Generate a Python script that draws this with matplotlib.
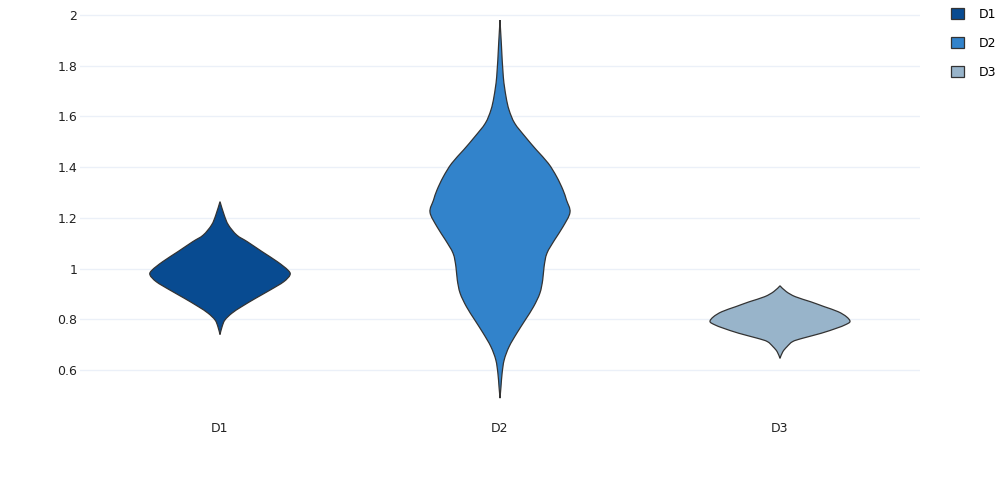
import numpy as np
import matplotlib.pyplot as plt
from matplotlib.path import Path
from matplotlib.patches import PathPatch, Patch

# violin outlines: value and relative density (max = 1)
names = ['D1', 'D2', 'D3']
colors = ['#084b91', '#3283cb', '#98b4ca']

d1_y = [0.740, 0.771, 0.797, 0.824, 0.850, 0.883, 0.916, 0.948, 0.975, 0.994,
        1.027, 1.067, 1.106, 1.132, 1.172, 1.211, 1.264]
d1_dens = [0, 0.03, 0.07, 0.17, 0.31, 0.51, 0.72, 0.91, 1.0, 0.97,
           0.82, 0.60, 0.39, 0.24, 0.12, 0.06, 0]

d2_y = [0.489, 0.534, 0.587, 0.640, 0.692, 0.745, 0.797, 0.850, 0.903, 0.955,
        1.008, 1.060, 1.113, 1.165, 1.222, 1.270, 1.310, 1.362, 1.415, 1.468,
        1.520, 1.573, 1.625, 1.678, 1.757, 1.888, 1.980]
d2_dens = [0, 0.014, 0.03, 0.06, 0.13, 0.24, 0.36, 0.48, 0.57, 0.61,
           0.63, 0.67, 0.78, 0.90, 1.0, 0.95, 0.90, 0.81, 0.69, 0.52,
           0.36, 0.21, 0.13, 0.086, 0.047, 0.019, 0]

d3_y = [0.646, 0.672, 0.692, 0.712, 0.725, 0.745, 0.765, 0.778, 0.791, 0.810,
        0.830, 0.850, 0.869, 0.889, 0.909, 0.932]
d3_dens = [0, 0.04, 0.10, 0.18, 0.32, 0.59, 0.81, 0.93, 1.0, 0.95,
           0.83, 0.63, 0.44, 0.22, 0.09, 0]

profiles = [(d1_y, d1_dens), (d2_y, d2_dens), (d3_y, d3_dens)]
y_ticks = [0.6, 0.8, 1.0, 1.2, 1.4, 1.6, 1.8, 2.0]


def bezier_half(pts):
    # catmull-rom through the points, returned as cubic bezier vertices
    n = len(pts)
    verts = [pts[0]]
    for i in range(n - 1):
        p0 = pts[max(i - 1, 0)]
        p1 = pts[i]
        p2 = pts[i + 1]
        p3 = pts[min(i + 2, n - 1)]
        c1 = p1 + (p2 - p0) / 6
        c2 = p2 - (p3 - p1) / 6
        verts += [c1, c2, p2]
    return np.array(verts)


def violin_path(x0, ys, dens, half_width=0.25):
    ys = np.array(ys)
    dens = np.array(dens)
    right = bezier_half(np.column_stack([dens * half_width, ys]))
    left = right[::-1].copy()
    left[:, 0] *= -1
    verts = np.vstack([right, left[1:]])
    verts[:, 0] += x0
    codes = [Path.MOVETO] + [Path.CURVE4] * (len(verts) - 1)
    return Path(verts, codes)


fig = plt.figure(figsize=(10, 5), dpi=100)
ax = fig.add_axes([0.08, 0.18, 0.84, 0.80])

for i, (ys, dens) in enumerate(profiles):
    p = violin_path(i, ys, dens)
    ax.add_patch(PathPatch(p, facecolor=colors[i], edgecolor='#333333', lw=0.9, zorder=3))

ax.set_xlim(-0.5, 2.5)
ax.set_ylim(0.6 - 40 / 253.6, 2.0 + 5 / 253.6)
ax.set_xticks(range(3))
ax.set_xticklabels(names)
ax.set_yticks(y_ticks)
ax.set_yticklabels(['%g' % v for v in y_ticks])
ax.tick_params(axis='both', length=0, labelsize=9, labelcolor='#222222')
ax.tick_params(axis='x', pad=8.5)
ax.tick_params(axis='y', pad=2)
ax.grid(axis='y', color='#ebf0f8', lw=1, zorder=0)
for s in ax.spines.values():
    s.set_visible(False)

handles = [Patch(facecolor=c, edgecolor='#333333', lw=0.9) for c in colors]
fig.legend(handles, names, loc='upper left', bbox_to_anchor=(0.951, 0.985),
           frameon=False, fontsize=9, handlelength=1.0, handleheight=1.0,
           labelspacing=1.3, handletextpad=1.2, borderpad=0, borderaxespad=0)

plt.savefig('out.png', dpi=100)
